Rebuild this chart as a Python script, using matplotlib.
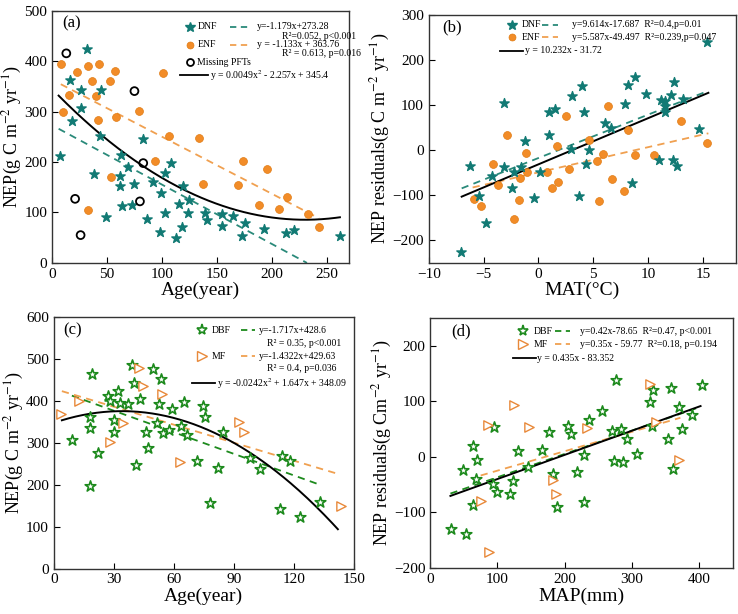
import numpy as np
import matplotlib
matplotlib.use("Agg")
import matplotlib.pyplot as plt
from matplotlib.lines import Line2D

plt.rcParams['font.family'] = ['Liberation Serif', 'DejaVu Serif']
plt.rcParams['mathtext.fontset'] = 'stix'

# ----------------------
# Data
# ----------------------
# (a) NEP vs stand age, needleleaf forests
dnf_age = [7, 32, 16, 26, 45, 26, 18, 44, 83, 38, 63, 62, 62, 69, 75, 64, 73, 49, 86, 92,
           99, 103, 98, 103, 108, 119, 116, 125, 124, 118, 113, 139, 141, 155, 155, 165,
           176, 173, 193, 213, 220, 262]
dnf_nep = [212, 425, 364, 343, 344, 307, 282, 252, 245, 177, 214, 173, 152, 191, 157, 112, 115,
           90, 86, 160, 139, 99, 61, 178, 198, 153, 117, 125, 99, 71, 49, 99, 84, 96, 74, 92,
           80, 54, 67, 59, 66, 53]
enf_age = [8, 10, 15, 23, 33, 36, 40, 42, 43, 33, 53, 57, 58, 54, 79, 101, 94, 106, 134,
           137, 174, 169, 196, 188, 214, 207, 233, 243]
enf_nep = [394, 300, 334, 379, 391, 361, 331, 284, 394, 104, 361, 381, 290, 170, 302, 377,
           202, 251, 247, 156, 202, 155, 186, 115, 130, 107, 96, 71]
miss_age = [13, 75, 83, 80, 21, 26]
miss_nep = [416, 341, 198, 122, 127, 55]

# (b) NEP residuals vs MAT
dnf_mat = [-7.05, -6.2, -5.4, -4.8, -4.2, -3.1, -3.1, -2.4, -2.2, -1.6, -1.2, -0.4, 0.1, 1.0,
           1.0, 1.5, 3.0, 3.1, 3.7, 4.0, 4.2, 4.3, 4.6, 6.1, 6.6, 7.9, 8.2, 8.5, 8.8, 9.8,
           11.0, 11.2, 11.5, 11.5, 11.5, 12.1, 12.4, 12.3, 12.6, 13.2, 14.6, 15.4]
dnf_res = [-226, -35, -103, -162, -58, -38, 104, -84, -49, -38, 19, -106, -49, 34, 84, 92, 2,
           119, -103, 141, 84, -31, -1, 61, 49, 101, 145, -73, 163, 125, -23, 112, 109, 97,
           84, 123, 150, -23, -36, 113, 47, 239]
enf_mat = [-5.9, -5.2, -4.1, -3.7, -2.9, -2.2, -1.8, -1.7, -1.1, -1.0, 0.8, 1.2, 1.7, 1.8,
           2.5, 2.8, 4.6, 5.3, 5.9, 5.5, 6.3, 6.7, 7.8, 8.2, 8.8, 10.5, 13.0, 15.4]
enf_res = [-108, -123, -30, -77, 34, -152, -110, -63, -7, -49, -49, -84, 10, -71, 76, -43,
           23, -24, -8, -114, 98, -64, -91, 44, -10, -12, 65, 16]

# (c) NEP vs stand age, broadleaf and mixed forests
dbf_age = [9, 19, 18, 18, 18, 22, 27, 28, 32, 30, 30, 33, 37, 39, 40, 41, 43, 46, 47, 49.5,
           51.5, 52.5, 53.5, 54.5, 57.5, 59, 63.5, 65, 66.5, 71.5, 74.5, 75.5, 78, 82, 84.5,
           98, 103, 113, 114, 118, 123, 133]
dbf_nep = [308, 465, 363, 337, 198, 275, 412, 401, 425, 355, 327, 396, 392, 486, 444, 247,
           406, 327, 289, 476, 348, 394, 452, 324, 331, 382, 341, 397, 319, 257, 388, 363,
           157, 241, 327, 263, 237, 143, 270, 258, 124, 160]
mf_age = [3.7, 12.8, 28.3, 34.5, 42.8, 44.8, 54, 63, 92.5, 95.3, 143.5]
mf_nep = [369, 400, 303, 348, 480, 437, 417, 255, 351, 327, 150]

# (d) NEP residuals vs MAP
dbf_map = [31, 48, 53, 63, 64, 68, 69, 93, 95, 100, 118, 123, 130, 146, 166, 176, 183, 189,
           205, 210, 218, 228, 229, 236, 256, 271, 273, 276, 283, 286, 292, 307, 327, 330,
           331, 353, 358, 361, 370, 375, 389, 404]
dbf_res = [-129, -24, -138, 19, -87, -39, -5, -48, 54, -64, -66, -44, 10, -18, 13, 44, -30,
           -91, 56, 41, -27, -81, 4, 66, 83, 46, -7, 139, 51, -9, 33, 5, 98, 55, 121, 32, 124,
           -21, 89, 51, 75, 130]
mf_map = [86, 88, 75, 125, 147, 183, 187, 233, 327, 335, 370]
mf_res = [57, -171, -79, 94, 54, -42, -66, 52, 131, 63, -6]

# fitted relations
fit_a_dnf = (-1.179, 273.28)
fit_a_enf = (-1.133, 363.76)
fit_a_all = (0.0049, -2.257, 345.4)
fit_b_dnf = (9.614, -17.687)
fit_b_enf = (5.587, -49.497)
fit_b_all = (10.232, -31.72)
fit_c_dbf = (-1.717, 428.6)
fit_c_mf = (-1.4322, 429.63)
fit_c_all = (-0.0242, 1.647, 348.09)
fit_d_dbf = (0.42, -78.65)
fit_d_mf = (0.35, -59.77)
fit_d_all = (0.435, -83.352)

TEAL = '#127a74'
ORANGE = '#f28c28'
ORANGE_LN = '#f0a050'
TEAL_LN = '#2a8a7a'
GREEN = '#1d8a1d'
MF_OR = '#e8893a'
LFS = 7  # key font size

# ----------------------
# Helpers
# ----------------------
def style_axes(ax):
    ax.tick_params(direction='in', labelsize=11, length=4, width=0.8)
    for s in ax.spines.values():
        s.set_linewidth(1.0)
        s.set_color('#333333')

def fit_line(ax, coef, x0, x1, **kw):
    x = np.linspace(x0, x1, 200)
    ax.plot(x, np.polyval(coef, x), **kw)

def key_row(ax, y, mx, mkw, name, nx, dash, tx, text):
    # marker + name + short dashed line + equation, in axes coords
    ax.add_line(Line2D([mx], [y], transform=ax.transAxes, linestyle='none', clip_on=False, **mkw))
    ax.text(nx, y, name, transform=ax.transAxes, fontsize=LFS, va='center')
    if dash is not None:
        ax.add_line(Line2D([dash[0], dash[1]], [y, y], transform=ax.transAxes, color=dash[2],
                           linestyle=(0, (3.5, 2.5)), lw=1.3))
    if text:
        ax.text(tx, y, text, transform=ax.transAxes, fontsize=LFS, va='center')

def solid_row(ax, y, x0, x1, tx, text):
    ax.add_line(Line2D([x0, x1], [y, y], transform=ax.transAxes, color='black', lw=1.3))
    ax.text(tx, y, text, transform=ax.transAxes, fontsize=LFS, va='center')

def note(ax, x, y, text):
    ax.text(x, y, text, transform=ax.transAxes, fontsize=LFS, va='center')

fig = plt.figure(figsize=(7.38, 6.14), dpi=100)
ax_a = fig.add_axes([0.0705, 0.572, 0.402, 0.410])
ax_b = fig.add_axes([0.581, 0.572, 0.416, 0.404])
ax_c = fig.add_axes([0.073, 0.074, 0.4065, 0.409])
ax_d = fig.add_axes([0.583, 0.075, 0.410, 0.407])

ylab = r'NEP(g C m$^{-2}$ yr$^{-1}$)'
ylab_res = r'NEP residuals(g C m$^{-2}$ yr$^{-1}$)'
dash_kw = dict(lw=1.3, linestyle=(0, (4, 3)))

dnf_mk = dict(marker='*', markersize=7, color=TEAL, markeredgecolor=TEAL)
enf_mk = dict(marker='o', markersize=5, color=ORANGE, markeredgecolor='#e07a10', markeredgewidth=0.5)
miss_mk = dict(marker='o', markersize=5, markerfacecolor='none', markeredgecolor='black', markeredgewidth=1.3)
dbf_mk = dict(marker='*', markersize=8, markerfacecolor='white', markeredgecolor=GREEN, markeredgewidth=1.2)
mf_mk = dict(marker='>', markersize=6.5, markerfacecolor='white', markeredgecolor=MF_OR, markeredgewidth=1.0)

# ---------------------- (a)
ax = ax_a
ax.scatter(enf_age, enf_nep, s=32, c=ORANGE, edgecolors='#e07a10', linewidths=0.5, zorder=3)
ax.scatter(dnf_age, dnf_nep, s=50, marker='*', c=TEAL, zorder=3)
ax.scatter(miss_age, miss_nep, s=32, facecolors='none', edgecolors='black', linewidths=1.3, zorder=3)
fit_line(ax, fit_a_dnf, 6, 232, color=TEAL_LN, **dash_kw)
fit_line(ax, fit_a_enf, 8, 243, color=ORANGE_LN, **dash_kw)
fit_line(ax, fit_a_all, 6, 262, color='black', lw=1.4)
ax.set_xlim(0, 270)
ax.set_ylim(0, 500)
ax.set_xticks([0, 50, 100, 150, 200, 250])
ax.set_yticks([0, 100, 200, 300, 400, 500])
ax.set_xlabel('Age(year)', fontsize=14, labelpad=1)
ax.set_ylabel(ylab, fontsize=13, labelpad=0)
ax.text(0.035, 0.95, '(a)', transform=ax.transAxes, fontsize=12, va='center')
key_row(ax, 0.937, 0.466, dnf_mk, 'DNF', 0.49, (0.60, 0.66, TEAL_LN), 0.69, 'y=-1.179x+273.28')
note(ax, 0.774, 0.900, 'R²=0.052, p<0.001')
key_row(ax, 0.866, 0.466, enf_mk, 'ENF', 0.49, (0.60, 0.66, ORANGE_LN), 0.69, 'y = -1.133x + 363.76')
note(ax, 0.774, 0.830, 'R² = 0.613, p=0.016')
key_row(ax, 0.797, 0.466, miss_mk, 'Missing PFTs', 0.49, None, 0.0, '')
solid_row(ax, 0.745, 0.431, 0.527, 0.532, r'y = 0.0049x$^2$ - 2.257x + 345.4')
style_axes(ax)

# ---------------------- (b)
ax = ax_b
ax.scatter(enf_mat, enf_res, s=32, c=ORANGE, edgecolors='#e07a10', linewidths=0.5, zorder=3)
ax.scatter(dnf_mat, dnf_res, s=50, marker='*', c=TEAL, zorder=3)
fit_line(ax, fit_b_dnf, -7, 15.5, color=TEAL_LN, **dash_kw)
fit_line(ax, fit_b_enf, -6, 15.5, color=ORANGE_LN, **dash_kw)
fit_line(ax, fit_b_all, -7, 15.5, color='black', lw=1.4)
ax.set_xlim(-10, 18)
ax.set_ylim(-250, 300)
ax.set_xticks([-10, -5, 0, 5, 10, 15])
ax.set_yticks([-200, -100, 0, 100, 200, 300])
ax.set_xlabel('MAT(°C)', fontsize=14, labelpad=1)
ax.set_ylabel(ylab_res, fontsize=13, labelpad=0)
ax.text(0.045, 0.95, '(b)', transform=ax.transAxes, fontsize=12, va='center')
key_row(ax, 0.960, 0.27, dnf_mk, 'DNF', 0.303, (0.368, 0.42, TEAL_LN), 0.466,
        'y=9.614x-17.687  R²=0.4,p=0.01')
key_row(ax, 0.910, 0.27, enf_mk, 'ENF', 0.303, (0.368, 0.42, ORANGE_LN), 0.466,
        'y=5.587x-49.497  R²=0.239,p=0.047')
solid_row(ax, 0.855, 0.231, 0.306, 0.313, 'y = 10.232x - 31.72')
style_axes(ax)

# ---------------------- (c)
ax = ax_c
ax.scatter(dbf_age, dbf_nep, s=65, marker='*', facecolors='white', edgecolors=GREEN, linewidths=1.2, zorder=3)
ax.scatter(mf_age, mf_nep, s=45, marker='>', facecolors='white', edgecolors=MF_OR, linewidths=1.0, zorder=3)
fit_line(ax, fit_c_dbf, 9, 133, color=GREEN, **dash_kw)
fit_line(ax, fit_c_mf, 4, 142, color=ORANGE_LN, **dash_kw)
fit_line(ax, fit_c_all, 4, 142, color='black', lw=1.4)
ax.set_xlim(0, 150)
ax.set_ylim(0, 600)
ax.set_xticks([0, 30, 60, 90, 120, 150])
ax.set_yticks([0, 100, 200, 300, 400, 500, 600])
ax.set_xlabel('Age(year)', fontsize=14, labelpad=1)
ax.set_ylabel(ylab, fontsize=13, labelpad=0)
ax.text(0.03, 0.948, '(c)', transform=ax.transAxes, fontsize=12, va='center')
key_row(ax, 0.948, 0.493, dbf_mk, 'DBF', 0.527, (0.625, 0.672, GREEN), 0.683, 'y=-1.717x+428.6')
note(ax, 0.71, 0.896, 'R² = 0.35, p<0.001')
key_row(ax, 0.845, 0.493, mf_mk, 'MF', 0.527, (0.625, 0.672, ORANGE_LN), 0.683, 'y=-1.4322x+429.63')
note(ax, 0.71, 0.797, 'R² = 0.4, p=0.036')
solid_row(ax, 0.737, 0.46, 0.537, 0.543, r'y = -0.0242x$^2$ + 1.647x + 348.09')
style_axes(ax)

# ---------------------- (d)
ax = ax_d
ax.scatter(dbf_map, dbf_res, s=65, marker='*', facecolors='white', edgecolors=GREEN, linewidths=1.2, zorder=3)
ax.scatter(mf_map, mf_res, s=45, marker='>', facecolors='white', edgecolors=MF_OR, linewidths=1.0, zorder=3)
fit_line(ax, fit_d_dbf, 30, 400, color=GREEN, **dash_kw)
fit_line(ax, fit_d_mf, 75, 372, color=ORANGE_LN, **dash_kw)
fit_line(ax, fit_d_all, 30, 402, color='black', lw=1.4)
ax.set_xlim(0, 450)
ax.set_ylim(-200, 250)
ax.set_xticks([0, 100, 200, 300, 400])
ax.set_yticks([-200, -100, 0, 100, 200])
ax.set_xlabel('MAP(mm)', fontsize=14, labelpad=1)
ax.set_ylabel(r'NEP residuals(g Cm$^{-2}$ yr$^{-1}$)', fontsize=13, labelpad=0)
ax.text(0.07, 0.948, '(d)', transform=ax.transAxes, fontsize=12, va='center')
key_row(ax, 0.948, 0.307, dbf_mk, 'DBF', 0.343, (0.413, 0.462, GREEN), 0.495,
        'y=0.42x-78.65  R²=0.47, p<0.001')
key_row(ax, 0.896, 0.307, mf_mk, 'MF', 0.343, (0.413, 0.462, ORANGE_LN), 0.495,
        'y=0.35x - 59.77  R²=0.18, p=0.194')
solid_row(ax, 0.840, 0.274, 0.35, 0.353, 'y = 0.435x - 83.352')
style_axes(ax)

fig.savefig('out.png', dpi=100)
